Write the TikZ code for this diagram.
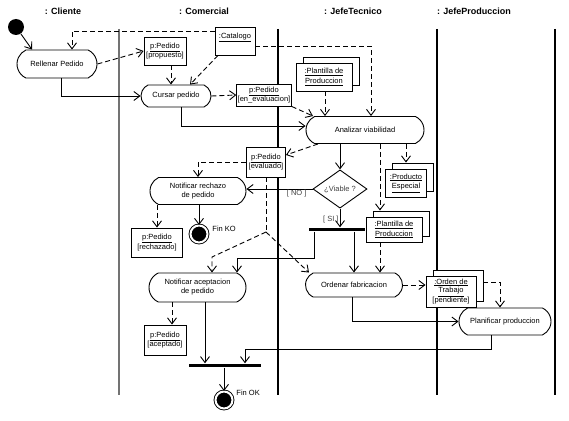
\documentclass[tikz,border=0pt]{standalone}
\usepackage{fontspec}
\setmainfont{Liberation Sans}
\usetikzlibrary{arrows.meta,shapes.misc,shapes.geometric,shadows}

\begin{document}
\begin{tikzpicture}[x=1pt,y=-1pt,
        font=\fontsize{7.5}{9}\selectfont,
        >={Straight Barb[length=6pt,width=9pt]},
        line width=0.9pt,
        lane/.style={line width=1.1pt},
        lanetitle/.style={font=\fontsize{9}{10}\selectfont\bfseries},
        act/.style={draw,rounded rectangle,rounded rectangle arc length=130,align=center,inner sep=1pt},
        obj/.style={draw,fill=white,align=center,inner sep=1pt,font=\fontsize{7.5}{9.8}\selectfont},
        stack/.style={obj,general shadow={shadow xshift=7pt,shadow yshift=6pt,draw,fill=white,line width=0.9pt}},
        bar/.style={fill=black,inner sep=0pt,minimum height=3.5pt},
        endnode/.style={circle,draw,fill=black,double=white,double distance=2pt,minimum size=17pt,inner sep=0pt},
        flow/.style={->},
        objflow/.style={->,dash pattern=on 5pt off 3pt},
        guard/.style={text=black!75,inner sep=1pt}]
        \useasboundingbox (0,0) rectangle (569,420);

        \node[lanetitle] (tcliente) at (63,11) {: Cliente};
        \node[lanetitle] (tcomercial) at (204,11) {: Comercial};
        \node[lanetitle] (ttecnico) at (353,11) {: JefeTecnico};
        \node[lanetitle] (tproduccion) at (474,11) {: JefeProduccion};
        \draw[lane,black!55] (119,29) -- (119,395);
        \draw[lane] (278,29) -- (278,395);
        \draw[lane] (437,29) -- (437,395);
        \draw[lane] (555,29) -- (555,395);

        \node[circle,fill=black,minimum size=16pt,inner sep=0pt] (inicio) at (16,27) {};
        \node[act,minimum width=82pt,minimum height=28pt] (rellenar) at (57,64) {Rellenar Pedido};
        \node[obj,minimum width=42pt,minimum height=28pt] (propuesto) at (165,51) {\underline{p:Pedido}\\{}[propuesto]};
        \node[draw,fill=white,minimum width=40pt,text height=9.5pt,text depth=15.5pt,inner ysep=1.5pt] (catalogo) at (235,41) {\underline{:Catalogo}};
        \node[act,minimum width=72pt,minimum height=22pt] (cursar) at (176,96) {Cursar pedido};
        \node[obj,minimum width=54pt,minimum height=22pt] (evaluacion) at (264,95) {\underline{p:Pedido}\\{}[en\_evaluacion]};
        \node[stack,minimum width=56pt,minimum height=28pt] (plantillaA) at (324,77) {\underline{:Plantilla de}\\\underline{Produccion}};
        \node[act,minimum width=120pt,minimum height=27pt] (analizar) at (365,130) {Analizar viabilidad};
        \node[obj,minimum width=39pt,minimum height=30pt] (evaluado) at (266,162) {\underline{p:Pedido}\\{}[evaluado]};
        \node[act,minimum width=98pt,minimum height=27pt] (rechazo) at (198,191) {Notificar rechazo\\de pedido};
        \node[diamond,draw,minimum width=54pt,minimum height=27pt,inner sep=0pt,text=black!75] (viable) at (340,189) {¿Viable ?};
        \node[stack,minimum width=41pt,minimum height=28pt] (producto) at (406,183) {\underline{:Producto}\\\underline{Especial}};
        \node[bar,minimum width=56pt] (forkA) at (337,229.5) {};
        \node[stack,minimum width=56pt,minimum height=25pt] (plantillaB) at (394,229.5) {\underline{:Plantilla de}\\\underline{Produccion}};
        \node[endnode] (finko) at (199,234) {};
        \node[anchor=west,inner sep=0pt] (finkotxt) at (212,229) {Fin KO};
        \node[obj,minimum width=51pt,minimum height=29pt] (rechazado) at (157,242.5) {\underline{p:Pedido}\\{}[rechazado]};
        \node[act,minimum width=99pt,minimum height=29pt] (aceptacion) at (197.5,287.5) {Notificar aceptacion\\de pedido};
        \node[act,minimum width=99pt,minimum height=24pt] (ordenar) at (354,285) {Ordenar fabricacion};
        \node[stack,minimum width=50pt,minimum height=31pt,font=\fontsize{7.5}{8.6}\selectfont] (orden) at (451,291.5) {\underline{:Orden de}\\\underline{Trabajo}\\{}[pendiente]};
        \node[act,minimum width=94pt,minimum height=27pt] (planificar) at (505,321.5) {Planificar produccion};
        \node[obj,minimum width=42pt,minimum height=30pt] (aceptado) at (165,340) {\underline{p:Pedido}\\{}[aceptado]};
        \node[bar,minimum width=72pt] (join) at (225,365.5) {};
        \node[endnode] (finok) at (224,400) {};
        \node[anchor=west,inner sep=0pt] (finoktxt) at (236,393) {Fin OK};

        \draw[flow] (inicio) -- ([xshift=-25pt]rellenar.north);
        \draw[objflow] ([yshift=10pt]catalogo.west) -| ([xshift=15pt]rellenar.north);
        \draw[objflow] (rellenar.east) -- (propuesto.west);
        \draw[objflow] ([xshift=6pt]propuesto.south) -- ([xshift=-5pt]cursar.north);
        \draw[objflow] ([xshift=-17pt]catalogo.south) -- ([xshift=14pt]cursar.north);
        \draw[flow] ([xshift=4pt]rellenar.south) |- (cursar.west);
        \draw[objflow] (cursar.east) -- (evaluacion.west);
        \draw[objflow] ([yshift=-5pt]catalogo.east) -| ([xshift=6pt]analizar.north);
        \draw[objflow] ([xshift=1pt]plantillaA.south) -- ([xshift=-40pt]analizar.north);
        \draw[objflow] (evaluacion.south east) -- ([xshift=-52pt]analizar.north);
        \draw[flow] ([xshift=5pt]cursar.south) |- ([yshift=4pt]analizar.west);
        \draw[objflow] ([xshift=-47pt]analizar.south) -- ([yshift=7pt]evaluado.east);
        \draw[objflow] (evaluado.west) -| (rechazo.north);
        \draw[flow] ([xshift=-25pt]analizar.south) -- (viable.north);
        \draw[flow] (viable.west) -- (viable.west -| rechazo.east) node[guard,pos=0.24,anchor=north] {[ NO ]};
        \draw[flow] (viable.south) -- (viable.south |- forkA.north) node[guard,pos=0.58,anchor=east] {[ SI ]};
        \draw[objflow] ([xshift=41pt]analizar.south) -- ([yshift=6pt]producto.north);
        \draw[objflow] ([xshift=15pt]analizar.south) -- ([xshift=-14pt,yshift=6pt]plantillaB.north);
        \draw[objflow] ([xshift=-14pt]plantillaB.south) -- ([xshift=26pt]ordenar.north);
        \draw[flow] ([xshift=17pt]forkA.south) -- (ordenar.north);
        \draw[flow] ([xshift=-23pt]forkA.south) -- ++(0,27) -| ([xshift=39.5pt]aceptacion.north);
        \coordinate (reparto) at (266,232);
        \draw[dash pattern=on 5pt off 3pt] (evaluado.south) -- (reparto);
        \draw[objflow] (reparto) -- ++(-54,25) -- ([xshift=14.5pt]aceptacion.north);
        \draw[objflow] (reparto) -- ([xshift=-45pt]ordenar.north);
        \draw[flow] ([xshift=1pt]rechazo.south) -- (finko.north);
        \draw[objflow] ([xshift=-41pt]rechazo.south) -- (rechazado.north);
        \draw[objflow] ([xshift=-25.5pt]aceptacion.south) -- ([xshift=7pt]aceptado.north);
        \draw[flow] ([xshift=7.5pt]aceptacion.south) -- ([xshift=-20pt]join.north);
        \draw[flow] ([xshift=-14pt]planificar.south) -- ++(0,14) -| ([xshift=20pt]join.north);
        \draw[flow] ([xshift=-1pt]join.south) -- (finok.north);
        \draw[objflow] (ordenar.east) -- (ordenar.east -| orden.west);
        \draw[objflow] ([xshift=7pt,yshift=9.5pt]orden.east) -| ([xshift=-5pt]planificar.north);
        \draw[flow] ([xshift=-2pt]ordenar.south) |- (planificar.west);
\end{tikzpicture}
\end{document}
